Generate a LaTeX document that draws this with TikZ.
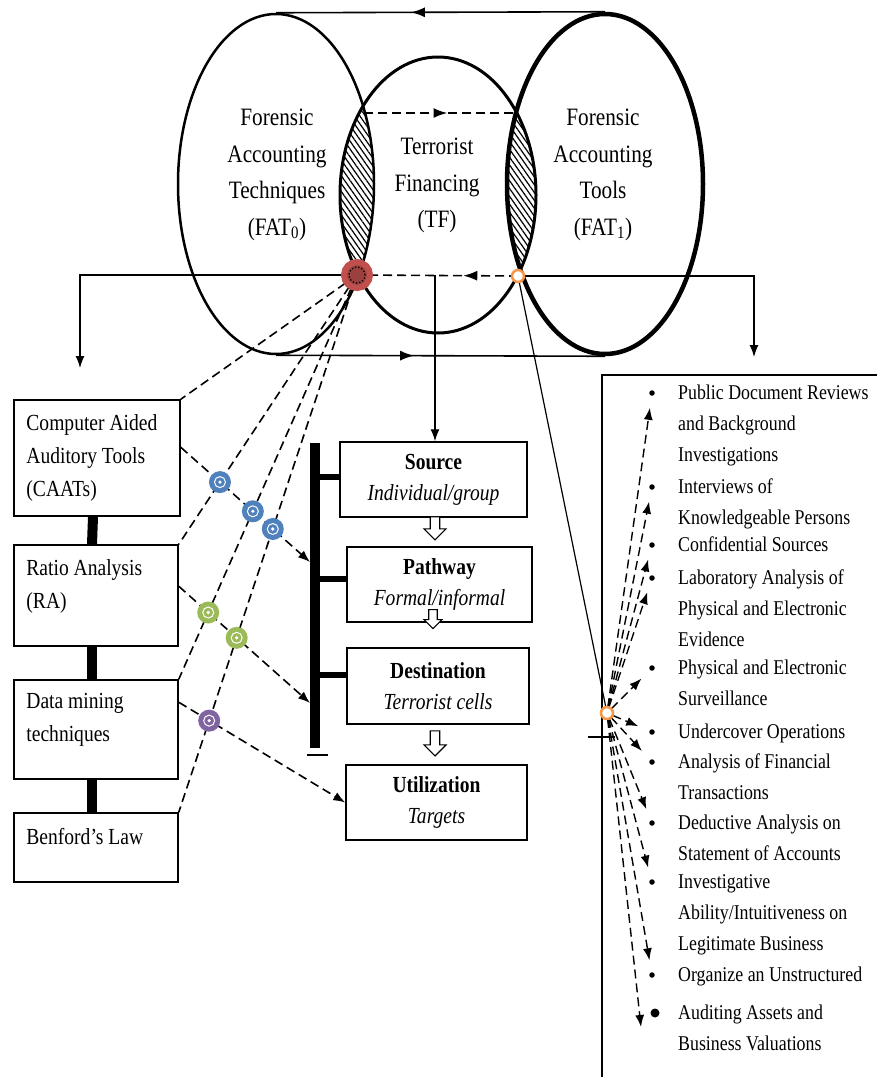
\documentclass[tikz,border=0pt]{standalone}
\usepackage{fontspec}
\setmainfont{Liberation Serif}[FakeStretch=0.85]
\usetikzlibrary{shapes.geometric,shapes.arrows,arrows.meta,decorations.markings,patterns.meta}

\definecolor{knotblue}{HTML}{4F81BD}
\definecolor{knotgreen}{HTML}{9BBB59}
\definecolor{knotpurple}{HTML}{8064A2}
\definecolor{knotred}{HTML}{C0504D}
\definecolor{knotorange}{HTML}{F79646}

\begin{document}
\begin{tikzpicture}[x=1pt, y=-1pt, >={Latex[length=12pt,width=9pt]},
    ring/.style={ellipse, draw, inner sep=0pt, minimum width=196pt, minimum height=#1},
    ringtext/.style={anchor=north, align=center, inner sep=0pt, font=\fontsize{25}{36.5}\selectfont},
    leftbox/.style={draw, line width=1.5pt, minimum width=164pt, inner sep=0pt},
    lefttext/.style={anchor=north west, align=left, inner sep=0pt, font=\fontsize{23}{33}\selectfont},
    midbox/.style={draw, line width=1.5pt, minimum height=75pt, align=center, inner sep=0pt, font=\fontsize{23}{31}\selectfont},
    listtext/.style={anchor=north west, align=left, inner sep=0pt, font=\fontsize{21}{31}\selectfont},
    listdot/.style={circle, fill, inner sep=0pt, minimum size=5.5pt},
    hatch/.style={pattern={Lines[angle=-55, distance=4.5pt, line width=1.2pt]}},
    knot/.style={circle, fill=#1, inner sep=0pt, minimum size=22pt,
        path picture={\draw[white, line width=1pt] (path picture bounding box.center) circle[radius=5.5pt];
                      \fill[white] (path picture bounding box.center) circle[radius=1.8pt];}},
    redknot/.style={circle, draw=knotred, line width=6pt, fill=knotred!80!black, inner sep=0pt, minimum size=26pt,
        path picture={\draw[black, dotted, line width=1.3pt] (path picture bounding box.center) circle[radius=8pt];}},
    hub/.style={circle, draw=knotorange, line width=2.5pt, fill=white, inner sep=0pt, minimum size=12pt},
    dashline/.style={dash pattern=on 9pt off 5pt, line width=1.6pt},
    dasharrow/.style={dashline, ->},
    midarrow/.style={postaction={decorate}, decoration={markings, mark=at position #1 with {\arrow{Latex[length=14pt,width=10pt]}}}},
    blockarrow/.style={single arrow, draw, fill=white, shape border rotate=270, line width=1.2pt,
        minimum height=23pt, minimum width=22pt, single arrow head extend=6pt, inner sep=4pt},
  ]

  % Page
  \fill[white] (0,0) rectangle (877,1077);
  \useasboundingbox (0,0) rectangle (877,1077);

  % Hatched overlaps
  \begin{scope}
    \clip (276,184) ellipse [x radius=98pt, y radius=170pt];
    \fill[hatch] (438,195) ellipse [x radius=98pt, y radius=138pt];
  \end{scope}
  \begin{scope}
    \clip (605,184) ellipse [x radius=98pt, y radius=170pt];
    \fill[hatch] (438,195) ellipse [x radius=98pt, y radius=138pt];
  \end{scope}

  % Rings
  \node[ring=340pt, line width=2.5pt] (fat0) at (276,184) {};
  \node[ring=276pt, line width=3pt] (tf) at (438,195) {};
  \node[ring=340pt, line width=4.5pt] (fat1) at (605,184) {};

  \node[ringtext] (fat0text) at (277,109) {Forensic\\Accounting\\Techniques\\(FAT\textsubscript{0})};
  \node[ringtext] (tftext) at (437,138) {Terrorist\\Financing\\(TF)};
  \node[ringtext] (fat1text) at (603,109) {Forensic\\Accounting\\Tools\\(FAT\textsubscript{1})};

  \coordinate (lensA) at (364,113);
  \coordinate (lensB) at (516,113);
  \coordinate (tfjoin) at (357,275);
  \coordinate (toolsjoin) at (518,276);
  \coordinate (tfdrop) at (435,275);
  \coordinate (caatsdrop) at (80,368);
  \coordinate (listdrop) at (754,357);

  \draw[line width=1.6pt, midarrow=0.59] (fat1.north) -- (fat0.north);
  \draw[line width=1.6pt, midarrow=0.42] (fat0.south) -- (fat1.south);
  \draw[dashline, line width=2.2pt, midarrow=0.55] (lensA) -- (lensB);
  \draw[dashline, midarrow=0.34] (toolsjoin) -- (tfjoin);

  % Money trail
  \node[midbox, minimum width=187pt] (source) at (433.5,479.5) {\textbf{Source}\\\textit{Individual/group}};
  \node[midbox, minimum width=185pt] (pathway) at (439.5,584.5) {\textbf{Pathway}\\\textit{Formal/informal}};
  \node[midbox, minimum width=182pt, minimum height=76pt] (destination) at (438,686) {\textbf{Destination}\\\textit{Terrorist cells}};
  \node[midbox, minimum width=181pt] (utilization) at (436.5,802.5) {\textbf{Utilization}\\\textit{Targets}};

  \node[blockarrow] (srcarrow) at (435,526) {};
  \node[blockarrow, minimum height=19pt, minimum width=18pt, single arrow head extend=4pt, inner sep=3pt] (patharrow) at (433,617) {};
  \node[blockarrow, minimum height=25pt] (destarrow) at (435,741) {};

  \coordinate (bartop) at (315,443);
  \coordinate (barbot) at (315,748);
  \coordinate (barfoot) at (317,755);
  \draw[line width=10pt] (bartop) -- (barbot);
  \draw[line width=1.5pt] ([xshift=-10pt]barfoot) -- ([xshift=11pt]barfoot);
  \foreach \stage/\up/\len in {source/3/27, pathway/6/34, destination/11/34}
    \draw[line width=6pt] ([yshift=\up pt]\stage.west) -- ++(-\len pt,0);

  \draw[line width=1.3pt, ->] (tfdrop) -- (tfdrop |- source.north);
  \draw[line width=1.3pt, ->] (tfjoin) -| (caatsdrop);
  \draw[line width=1.3pt, ->] (toolsjoin) -| (listdrop);

  % Techniques
  \node[leftbox, minimum width=166pt, minimum height=116pt] (caats) at (97,458) {};
  \node[leftbox, minimum height=101pt] (ra) at (96,595.5) {};
  \node[leftbox, minimum height=99pt] (dm) at (96,729.5) {};
  \node[leftbox, minimum height=69pt] (benford) at (96,847.5) {};

  \node[lefttext] (caatstext) at ([xshift=13pt,yshift=-15pt]caats.north west) {Computer Aided\\Auditory Tools\\(CAATs)};
  \node[lefttext] (ratext) at ([xshift=13pt,yshift=-15pt]ra.north west) {Ratio Analysis\\(RA)};
  \node[lefttext] (dmtext) at ([xshift=13pt,yshift=-14pt]dm.north west) {Data mining\\techniques};
  \node[lefttext] (benfordtext) at ([xshift=13pt,yshift=-16pt]benford.north west) {Benford’s Law};

  \foreach \a/\b in {caats/ra, ra/dm, dm/benford}
    \draw[line width=10pt] ([xshift=-4pt]\a.south) -- ([xshift=-4pt]\b.north);

  \coordinate (racorner) at (ra.north east);
  \coordinate (dmcorner) at (dm.north east);
  \coordinate (bfcorner) at (benford.north east);
  \coordinate (caatsout) at ([yshift=-48pt]caats.north east);
  \coordinate (raout) at ([yshift=-42pt]ra.north east);
  \coordinate (dmout) at ([yshift=-23pt]dm.north east);
  \coordinate (barinA) at (310,562);
  \coordinate (barinB) at (310,703);
  \coordinate (utilin) at (utilization.west);

  \foreach \tool in {caats, ra, dm, benford}
    \draw[dashline] (tfjoin) -- (\tool.north east);
  \draw[dasharrow] (caatsout) -- (barinA);
  \draw[dasharrow] (raout) -- (barinB);
  \draw[dasharrow] (dmout) -- (utilin);

  \node[knot=knotblue] (k1) at (intersection of tfjoin--racorner and caatsout--barinA) {};
  \node[knot=knotblue] (k2) at (intersection of tfjoin--dmcorner and caatsout--barinA) {};
  \node[knot=knotblue] (k3) at (intersection of tfjoin--bfcorner and caatsout--barinA) {};
  \node[knot=knotgreen] (k4) at (intersection of tfjoin--dmcorner and raout--barinB) {};
  \node[knot=knotgreen] (k5) at (intersection of tfjoin--bfcorner and raout--barinB) {};
  \node[knot=knotpurple] (k6) at (intersection of tfjoin--bfcorner and dmout--utilin) {};

  % Tools list
  \coordinate (listcorner) at (602,375);
  \coordinate (listright) at (877,375);
  \coordinate (listend) at (602,1077);
  \coordinate (listfoot) at (602,737);
  \coordinate (fanjoin) at (607,713);
  \coordinate (audtip) at (641,1027);
  \draw[line width=1.5pt] (listright) -- (listcorner) -- (listend);
  \draw[line width=1.5pt] ([xshift=-14pt]listfoot) -- ([xshift=13pt]listfoot);
  \draw[line width=1.2pt] (toolsjoin) -- (fanjoin);

  \foreach \i/\y/\txt in {
      1/393/{Public Document Reviews\\and Background\\Investigations},
      2/487/{Interviews of\\Knowledgeable Persons},
      3/545/{Confidential Sources},
      4/578/{Laboratory Analysis of\\Physical and Electronic\\Evidence},
      5/668/{Physical and Electronic\\Surveillance},
      6/732/{Undercover Operations},
      7/762/{Analysis of Financial\\Transactions},
      8/823/{Deductive Analysis on\\Statement of Accounts},
      9/882/{Investigative\\Ability/Intuitiveness on\\Legitimate Business},
      10/975/{Organize an Unstructured}} {
    \node[listdot] (b\i) at (652,\y) {};
    \node[listtext] (t\i) at ([xshift=26pt,yshift=8pt]b\i.center) {\txt};
  }
  \node[listdot, minimum size=9pt] (b11) at (655,1013) {};
  \node[listtext] (t11) at ([xshift=23pt,yshift=8pt]b11.center) {Auditing Assets and\\Business Valuations};

  \foreach \i in {1,...,10}
    \draw[dasharrow, line width=1.4pt, shorten <=6pt, shorten >=12pt] (fanjoin) -- (b\i);
  \draw[dasharrow, line width=1.4pt, shorten <=6pt] (fanjoin) -- (audtip);

  % Joints
  \node[redknot] (tfknot) at (tfjoin) {};
  \node[hub] (toolsknot) at (toolsjoin) {};
  \node[hub] (fanhub) at (fanjoin) {};

\end{tikzpicture}
\end{document}
